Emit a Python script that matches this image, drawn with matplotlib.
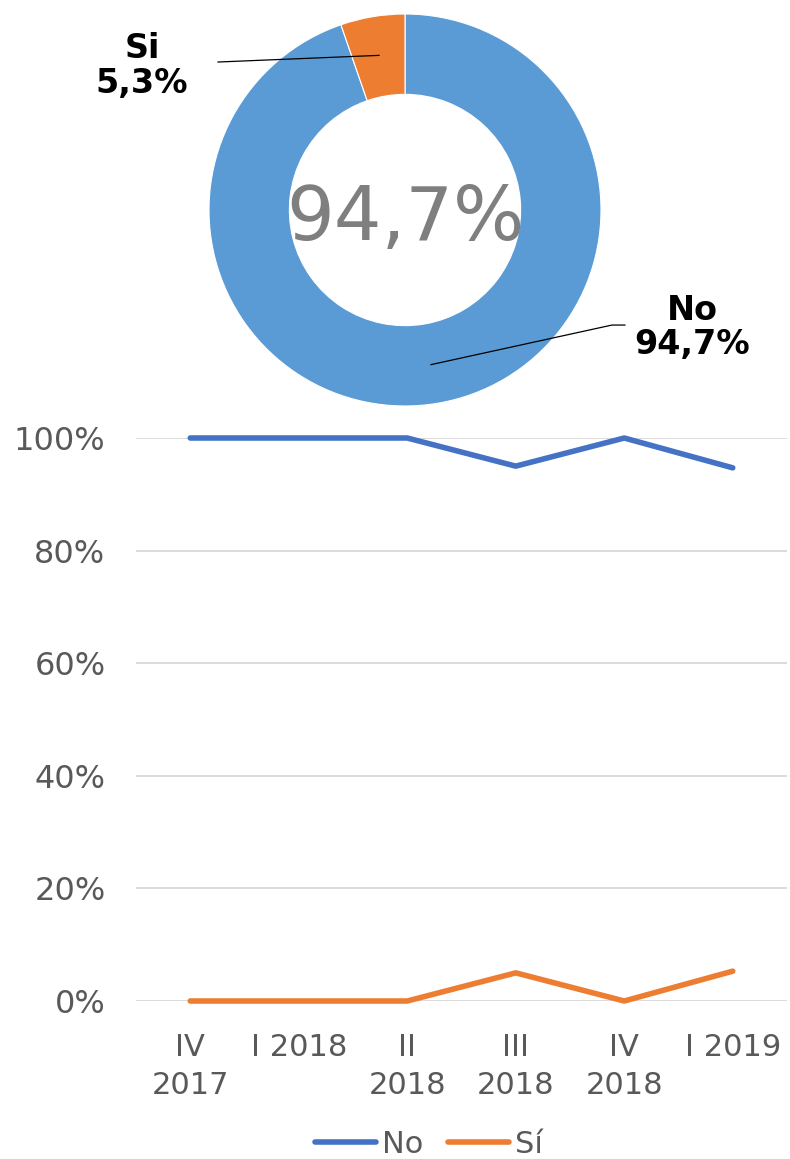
"""
Donut of Si/No share plus quarterly trend of both answers
"""

import numpy as np
import matplotlib.pyplot as plt

BLUE_PIE = "#5B9BD5"
ORANGE = "#ED7D31"
BLUE_LINE = "#4472C4"
GREY = "#595959"

# donut data
pie_labels = ["No", "Si"]
pie_values = [94.7, 5.3]
pie_text = ["94,7%", "5,3%"]

# trend data
quarters = ["IV\n2017", "I 2018", "II\n2018", "III\n2018", "IV\n2018", "I 2019"]
share_no = [1.00, 1.00, 1.00, 0.95, 1.00, 0.947]
share_si = [0.00, 0.00, 0.00, 0.05, 0.00, 0.053]

W, H = 790, 1159
fig = plt.figure(figsize=(W / 100, H / 100), dpi=100)

# ---- donut ----
cx, cy, r = 405, 210, 196
ax_pie = fig.add_axes([(cx - r) / W, 1 - (cy + r) / H, 2 * r / W, 2 * r / H])
wedges, _ = ax_pie.pie(
    pie_values,
    colors=[BLUE_PIE, ORANGE],
    startangle=90,
    counterclock=False,
    radius=1,
    wedgeprops=dict(width=0.41, edgecolor="white", linewidth=0.8),
)
ax_pie.set_xlim(-1, 1)
ax_pie.set_ylim(-1, 1)
ax_pie.set_aspect("equal")
ax_pie.axis("off")
ax_pie.text(0, -0.05, pie_text[0], ha="center", va="center", fontsize=54,
            color="#7F7F7F")

# label positions (in donut radii) and leader lines
label_pos = {"No": (1.464, -0.60), "Si": (-1.342, 0.735)}
elbow = {"No": [(1.056, -0.587), (1.122, -0.587)], "Si": [(-0.954, 0.755)]}
for w, lab, txt in zip(wedges, pie_labels, pie_text):
    mid = np.deg2rad((w.theta1 + w.theta2) / 2)
    start = (0.8 * np.cos(mid), 0.8 * np.sin(mid))
    pts = [start] + elbow[lab]
    xs, ys = zip(*pts)
    ax_pie.plot(xs, ys, color="black", lw=0.9, clip_on=False)
    lx, ly = label_pos[lab]
    ax_pie.text(lx, ly, f"{lab}\n{txt}", ha="center", va="center",
                fontsize=24, fontweight="bold", linespacing=1.05)

# ---- line chart ----
ax = fig.add_axes([136 / W, 1 - 1001 / H, (787 - 136) / W, (1001 - 438) / H])
x = np.arange(len(quarters))
ax.plot(x, share_no, color=BLUE_LINE, lw=4, solid_capstyle="round",
        label="No", clip_on=False, zorder=3)
ax.plot(x, share_si, color=ORANGE, lw=4, solid_capstyle="round",
        label="Sí", clip_on=False, zorder=3)
ax.set_xlim(-0.5, len(quarters) - 0.5)
ax.set_ylim(0, 1)
ax.set_yticks(np.linspace(0, 1, 6))
ax.set_yticklabels([f"{int(v * 100)}%" for v in np.linspace(0, 1, 6)])
ax.yaxis.grid(True, color="#D9D9D9", lw=1.3)
ax.set_axisbelow(True)
for s in ax.spines.values():
    s.set_visible(False)
ax.tick_params(axis="both", length=0, colors=GREY)
ax.tick_params(axis="y", labelsize=23, pad=22)
ax.set_xticks(x)
ax.set_xticklabels(quarters, fontsize=22, linespacing=1.4)
ax.tick_params(axis="x", pad=23)

leg = ax.legend(loc="center", bbox_to_anchor=(0.45, -0.255), ncol=2,
                frameon=False, handlelength=2.0, columnspacing=0.8,
                handletextpad=0.2, prop=dict(size=22))
for t in leg.get_texts():
    t.set_color(GREY)

fig.savefig("out.png", dpi=100)
